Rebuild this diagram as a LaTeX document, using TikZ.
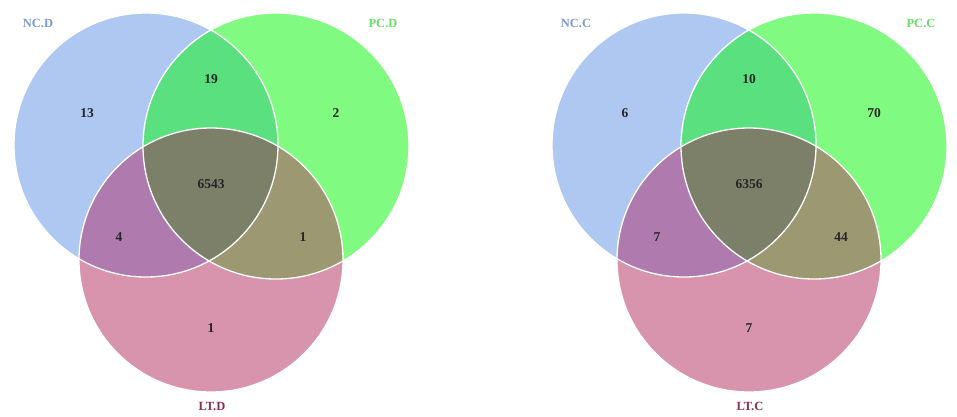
\documentclass[tikz,border=0pt]{standalone}
\usepackage{fontspec}
\setmainfont{Liberation Serif}
\definecolor{cB}{HTML}{AEC8F2}
\definecolor{cG}{HTML}{80FA80}
\definecolor{cP}{HTML}{D994AD}
\definecolor{cBG}{HTML}{5BE07F}
\definecolor{cBP}{HTML}{AF7AAD}
\definecolor{cGP}{HTML}{9B9872}
\definecolor{cBGP}{HTML}{7C8068}
\definecolor{tB}{HTML}{7D9AD2}
\definecolor{tG}{HTML}{66DD66}
\definecolor{tP}{HTML}{8A2F52}
\tikzset{
  num/.style={font=\bfseries\fontsize{13.5}{15}\selectfont, text=black!85},
  setlab/.style={font=\bfseries\fontsize{12.5}{14}\selectfont},
  rim/.style={draw=white, line width=1.3pt}
}
\newcommand\myvenn[9]{%
  % #1 suffix, #2 only-B, #3 BG, #4 only-G, #5 all, #6 BP, #7 GP, #8 only-P, #9 name prefix
  \fill[cB] (146,145) circle[radius=132pt];
  \fill[cG] (276,146) circle[radius=133pt];
  \fill[cP] (211,260) circle[radius=132pt];
  \begin{scope}\clip (146,145) circle[radius=132pt];
    \fill[cBG] (276,146) circle[radius=133pt];
    \fill[cBP] (211,260) circle[radius=132pt];
  \end{scope}
  \begin{scope}\clip (276,146) circle[radius=133pt];
    \fill[cGP] (211,260) circle[radius=132pt];
  \end{scope}
  \begin{scope}\clip (146,145) circle[radius=132pt];
    \clip (276,146) circle[radius=133pt];
    \fill[cBGP] (211,260) circle[radius=132pt];
  \end{scope}
  \draw[rim] (146,145) circle[radius=132pt];
  \draw[rim] (276,146) circle[radius=133pt];
  \draw[rim] (211,260) circle[radius=132pt];
  \node[setlab, text=tB] (#9nc) at (38,23) {NC.#1};
  \node[setlab, text=tG] (#9pc) at (383,23) {PC.#1};
  \node[setlab, text=tP] (#9lt) at (212,406) {LT.#1};
  \node[num] (#9b) at (87,113) {#2};
  \node[num] (#9bg) at (211,79) {#3};
  \node[num] (#9g) at (336,113) {#4};
  \node[num] (#9bgp) at (211,184) {#5};
  \node[num] (#9bp) at (119,237) {#6};
  \node[num] (#9gp) at (303,237) {#7};
  \node[num] (#9p) at (211,328) {#8};
}
\begin{document}
\begin{tikzpicture}[x=1pt,y=-1pt]
  \useasboundingbox[fill=white] (0,0) rectangle (957,416);
  \begin{scope}
    \myvenn{D}{13}{19}{2}{6543}{4}{1}{1}{d}
  \end{scope}
  \begin{scope}[xshift=538pt]
    \myvenn{C}{6}{10}{70}{6356}{7}{44}{7}{c}
  \end{scope}
\end{tikzpicture}
\end{document}
